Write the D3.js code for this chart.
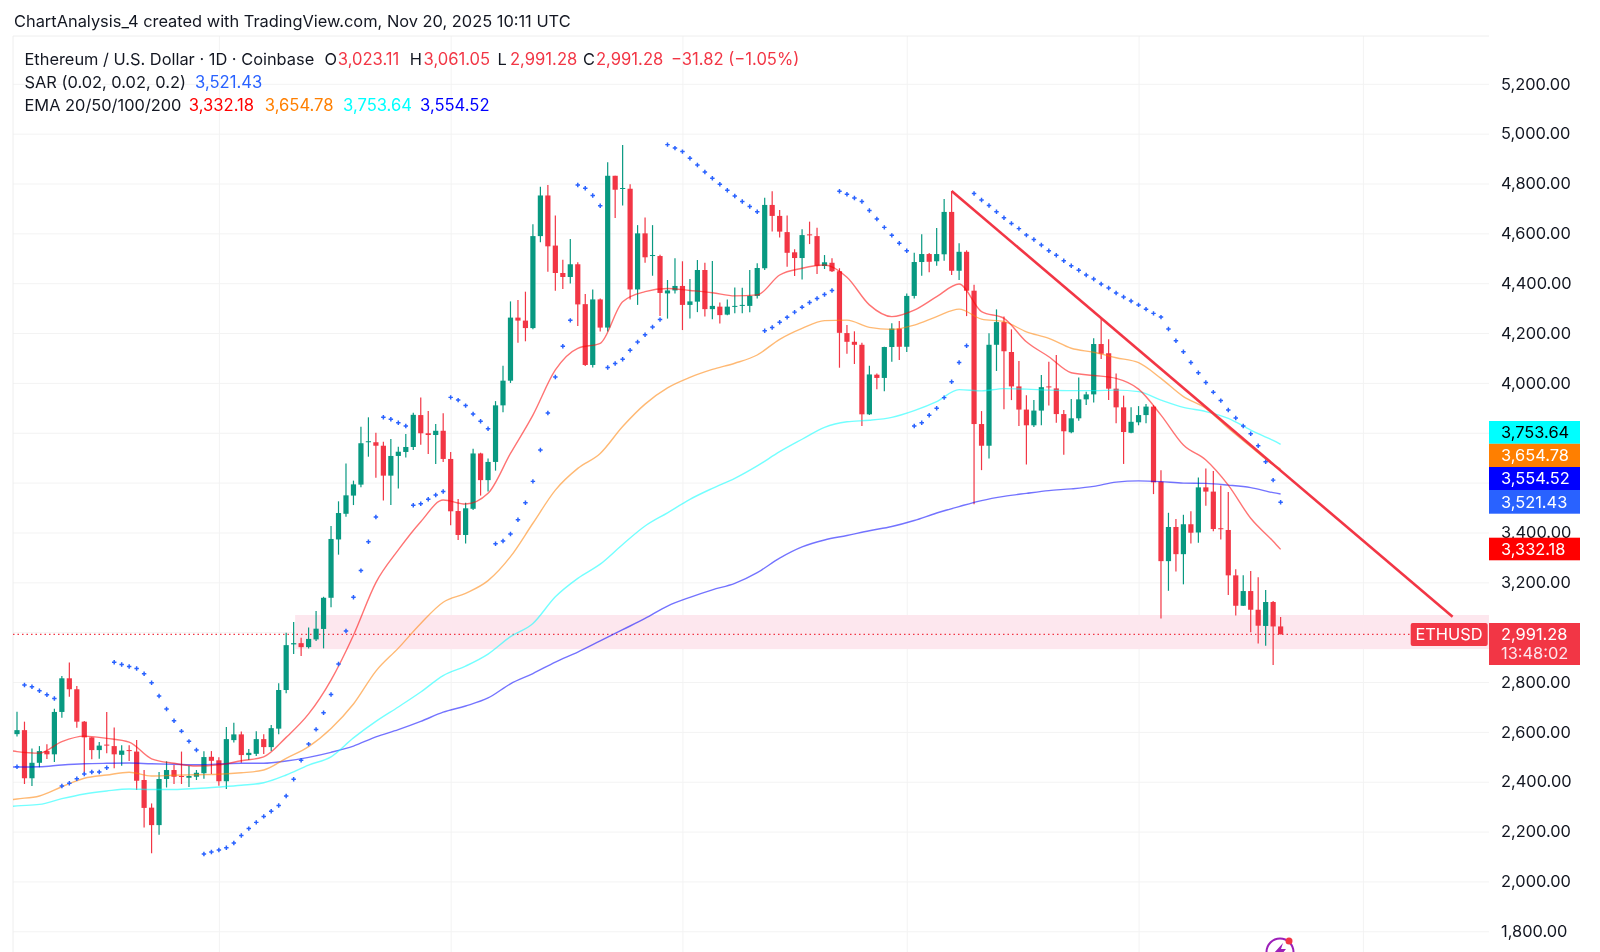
<!DOCTYPE html>
<html>
<head>
<meta charset="utf-8">
<title>ETHUSD</title>
<script src="https://cdn.jsdelivr.net/npm/d3@7"></script>
<style>
  html, body { margin: 0; padding: 0; background: #fff; overflow: hidden; }
  svg { display: block; filter: blur(0.35px); }
  text { font-family: Inter, "Noto Sans", sans-serif; }
</style>
</head>
<body>
<div id="chart"></div>
<script>
// candles, one per day from the first date
const firstDay = "2025-06-04";
const opens = [2591,2607,2414,2476,2523,2510,2680,2815,2771,2641,2578,2527,2549,2543,2508,2527,2521,2407,2296,2226,2411,2447,2423,2416,2420,2434,2500,2486,2402,2567,2590,2507,2512,2571,2539,2613,2768,2951,2956,2940,2971,3013,3138,3372,3475,3548,3592,3762,3762,3748,3628,3707,3723,3743,3871,3798,3791,3808,3695,3486,3390,3495,3717,3610,3683,3910,4009,4262,4250,4220,4589,4752,4551,4441,4425,4476,4316,4072,4335,4222,4831,4778,4779,4375,4600,4510,4509,4359,4371,4389,4313,4326,4453,4296,4306,4274,4305,4310,4309,4349,4460,4714,4670,4605,4524,4501,4596,4589,4469,4482,4448,4200,4165,4153,3874,4033,4020,4144,4218,4145,4349,4485,4517,4488,4516,4686,4450,4526,4370,3835,3748,4153,4244,4124,3986,3893,3830,3889,3986,3978,3875,3802,3858,3934,3954,4156,4119,3977,3902,3800,3842,3871,3905,3604,3285,3422,3313,3433,3400,3581,3564,3417,3410,3228,3106,3165,3090,3025,3121,3023.11];
const highs = [2681,2641,2533,2543,2550,2693,2824,2878,2784,2644,2578,2559,2680,2618,2546,2546,2567,2447,2313,2439,2482,2467,2521,2464,2447,2522,2523,2498,2620,2637,2602,2531,2603,2591,2628,2795,2998,3041,2978,3019,3085,3142,3426,3525,3677,3608,3824,3862,3800,3764,3775,3744,3795,3880,3941,3887,3835,3878,3723,3534,3519,3736,3720,3697,3927,4069,4327,4333,4366,4637,4787,4794,4672,4494,4577,4484,4357,4375,4339,4885,4831,4954,4797,4633,4664,4633,4514,4413,4500,4488,4417,4493,4482,4489,4323,4335,4383,4382,4453,4480,4743,4769,4694,4672,4536,4616,4647,4623,4513,4500,4460,4232,4207,4161,4069,4038,4145,4239,4248,4359,4522,4596,4521,4621,4738,4770,4560,4532,4394,3887,4199,4295,4266,4215,4088,3951,3931,4032,4085,4112,3891,3935,4022,3965,4179,4259,4175,4038,3949,3902,3907,3915,3911,3650,3479,3454,3471,3485,3621,3657,3647,3588,3562,3252,3228,3245,3220,3169,3125,3061.05];
const lows = [2581,2391,2383,2458,2491,2479,2657,2741,2617,2434,2490,2492,2514,2454,2464,2483,2367,2216,2113,2187,2377,2391,2391,2379,2407,2412,2431,2384,2371,2557,2476,2487,2503,2511,2523,2591,2755,2912,2904,2935,2965,2935,3100,3311,3463,3510,3581,3704,3620,3528,3510,3576,3701,3731,3752,3715,3675,3683,3429,3370,3356,3490,3548,3564,3648,3882,4000,4161,4167,4215,4564,4446,4370,4377,4399,4228,4068,4062,4206,4206,4662,4712,4335,4313,4482,4430,4268,4258,4359,4212,4258,4284,4266,4255,4238,4271,4279,4279,4284,4339,4453,4607,4583,4466,4429,4415,4557,4437,4457,4445,4061,4117,4076,3827,3871,3975,3967,4085,4092,4124,4339,4430,4444,4470,4490,4433,4413,4268,3513,3650,3697,4048,3894,3931,3827,3673,3823,3830,3909,3840,3712,3798,3848,3911,3921,4096,3931,3838,3675,3798,3830,3838,3554,3055,3166,3243,3192,3356,3359,3507,3405,3372,3149,3067,3105,3000,2955,2946,2868,2991.28];
const closes = [2607,2414,2476,2523,2510,2680,2815,2771,2641,2578,2527,2545,2545,2510,2525,2523,2404,2295,2226,2411,2447,2420,2419,2423,2436,2499,2484,2402,2571,2590,2507,2516,2571,2539,2615,2768,2948,2956,2940,2973,3014,3138,3374,3478,3549,3593,3758,3766,3748,3628,3707,3724,3743,3872,3798,3791,3808,3695,3485,3390,3497,3717,3610,3683,3910,4009,4262,4250,4220,4589,4752,4548,4441,4425,4476,4315,4072,4335,4222,4831,4775,4782,4375,4600,4504,4513,4361,4371,4389,4313,4327,4453,4296,4309,4272,4306,4309,4313,4349,4461,4714,4670,4607,4522,4501,4593,4593,4470,4484,4448,4201,4165,4153,3874,4034,4020,4144,4218,4145,4349,4485,4517,4486,4517,4686,4450,4526,4370,3835,3748,4153,4244,4127,3986,3893,3830,3889,3983,3983,3875,3806,3858,3934,3954,4156,4117,3977,3902,3803,3844,3871,3905,3601,3285,3422,3313,3433,3399,3581,3564,3414,3414,3228,3106,3165,3090,3026,3121,3023,2991.28];

// parabolic SAR, one dot per candle
const sar = [2460,2788,2781,2765,2749,2734,2383,2394,2412,2431,2439,2439,2456,2879,2870,2862,2854,2833,2797,2744,2692,2645,2603,2562,2527,2110,2118,2126,2135,2154,2184,2212,2237,2261,2282,2305,2343,2410,2486,2551,2610,2677,2750,2872,3005,3140,3247,3363,3462,3862,3854,3840,3827,3509,3515,3533,3550,3564,3942,3931,3909,3875,3846,3816,3355,3366,3394,3451,3519,3605,3731,3879,4024,4147,4251,4794,4781,4752,4711,4062,4078,4095,4131,4164,4193,4224,4254,4956,4942,4928,4901,4874,4846,4821,4797,4773,4750,4728,4708,4687,4209,4222,4243,4263,4284,4304,4323,4339,4355,4371,4769,4757,4742,4728,4692,4658,4624,4592,4560,4530,3827,3840,3870,3898,3941,4005,4082,4149,4760,4734,4712,4687,4663,4640,4619,4593,4575,4553,4530,4512,4490,4470,4452,4433,4417,4397,4381,4361,4345,4329,4313,4296,4279,4264,4216,4169,4125,4082,4041,4002,3963,3929,3891,3859,3827,3796,3748,3684,3610,3521.43];

// EMA lines read every third day
const emaDays = [-1,0,3,6,9,12,15,18,21,24,27,30,33,36,39,42,45,48,51,54,57,60,63,66,69,72,75,78,81,84,87,90,93,96,99,102,105,108,111,114,117,120,123,126,129,132,135,138,141,144,147,150,153,156,159,162,165,168,169];
const ema20 = [2525,2521,2515,2561,2583,2574,2559,2492,2474,2463,2468,2484,2500,2578,2672,2808,2988,3199,3330,3443,3530,3514,3557,3717,3871,4052,4139,4159,4326,4366,4379,4371,4362,4349,4353,4433,4460,4473,4424,4313,4266,4292,4346,4397,4286,4259,4165,4105,4041,4030,4018,3975,3871,3751,3691,3590,3457,3365,3332.18];
const ema50 = [2327,2331,2343,2380,2414,2427,2438,2423,2426,2428,2430,2436,2447,2494,2541,2614,2712,2844,2936,3035,3120,3156,3207,3303,3437,3570,3657,3717,3825,3915,3980,4022,4054,4079,4112,4175,4219,4250,4252,4223,4215,4232,4266,4296,4256,4246,4205,4179,4139,4123,4101,4081,4018,3945,3898,3818,3744,3672,3654.78];
const ema100 = [2300,2303,2309,2332,2351,2363,2371,2369,2369,2373,2379,2386,2396,2427,2467,2500,2576,2642,2700,2760,2826,2864,2912,2982,3035,3142,3216,3273,3352,3426,3479,3533,3577,3617,3667,3724,3774,3822,3844,3850,3862,3889,3925,3973,3968,3977,3975,3971,3969,3969,3971,3965,3931,3902,3885,3858,3811,3769,3753.64];
const ema200 = [2459,2459,2460,2467,2472,2474,2475,2472,2470,2468,2471,2474,2474,2483,2498,2518,2543,2580,2609,2642,2679,2704,2736,2793,2834,2880,2920,2965,3010,3055,3105,3140,3170,3196,3239,3297,3342,3370,3388,3407,3424,3448,3478,3504,3528,3545,3557,3568,3575,3585,3602,3607,3604,3598,3597,3590,3580,3560,3554.52];

// drawings and axes
const trendDays = [125, 192];
const trendPrices = [4770, 3062];
const zoneDays = [37.2, 200];
const zonePrices = [3069, 2932];
const lastPrice = 2991.28;
const gridPrices = [5200,5000,4800,4600,4400,4200,4000,3800,3600,3400,3200,3000,2800,2600,2400,2200,2000,1800];
const labelPrices = [5200,5000,4800,4600,4400,4200,4000,3400,3200,2800,2600,2400,2200,2000,1800];
const monthTicks = ["2025-07-01","2025-08-01","2025-09-01","2025-10-01","2025-11-01","2025-12-01"];

const titleText = "ChartAnalysis_4 created with TradingView.com, Nov 20, 2025 10:11 UTC";

const green = "#089981";
const red = "#f23645";
const width = 1600;
const height = 952;
const left = 13;
const right = 1489;
const top_ = 36;

const fmt = d3.format(",.2f");
const start = new Date(firstDay + "T00:00:00Z");
const dayOf = i => start.getTime() + i * 86400000;

const x = d3.scaleUtc()
    .domain([start, d3.utcDay.offset(start, 169)])
    .range([17, 17 + 169 * 7.477]);
const y = d3.scaleLinear()
    .domain([1800, 5200])
    .range([931.3, 83.8]);

const svg = d3.select("#chart").append("svg")
    .attr("width", width)
    .attr("height", height);

svg.append("clipPath").attr("id", "plot")
    .append("rect")
    .attr("x", left).attr("y", top_)
    .attr("width", right - left).attr("height", height - top_);

// grid
const gridY = svg.append("g")
    .attr("transform", `translate(${left},0)`)
    .call(d3.axisRight(y).tickValues(gridPrices).tickSize(right - left).tickFormat(""));
const gridX = svg.append("g")
    .attr("transform", `translate(0,${height})`)
    .call(d3.axisTop(x).tickValues(monthTicks.map(d => new Date(d + "T00:00:00Z"))).tickSize(height - top_).tickFormat(""));
[gridY, gridX].forEach(g => {
    g.select(".domain").remove();
    g.selectAll("line").attr("stroke", "#f3f3f3").attr("stroke-width", 1);
});

// frame, top and left only
svg.append("path")
    .attr("d", `M${left},${height}V${top_}H${right}`)
    .attr("fill", "none")
    .attr("stroke", "#eeeeee");

const plot = svg.append("g").attr("clip-path", "url(#plot)");

// pink zone
plot.append("rect")
    .attr("x", x(dayOf(zoneDays[0])))
    .attr("y", y(zonePrices[0]))
    .attr("width", x(dayOf(zoneDays[1])) - x(dayOf(zoneDays[0])))
    .attr("height", y(zonePrices[1]) - y(zonePrices[0]))
    .attr("fill", "#fde7ee");

// last price line
plot.append("line")
    .attr("x1", left).attr("x2", right)
    .attr("y1", y(lastPrice)).attr("y2", y(lastPrice))
    .attr("stroke", red)
    .attr("stroke-width", 1.2)
    .attr("stroke-dasharray", "1.5 3");

// candles
const candle = plot.selectAll(".candle")
    .data(opens.map((o, i) => i))
    .enter().append("g")
    .attr("class", "candle")
    .attr("fill", i => closes[i] < opens[i] ? red : green)
    .attr("stroke", i => closes[i] < opens[i] ? red : green);

candle.append("line")
    .attr("x1", i => x(dayOf(i))).attr("x2", i => x(dayOf(i)))
    .attr("y1", i => y(highs[i])).attr("y2", i => y(lows[i]))
    .attr("stroke-width", 1.2);

candle.append("rect")
    .attr("x", i => x(dayOf(i)) - 2.6)
    .attr("width", 5.2)
    .attr("y", i => y(Math.max(opens[i], closes[i])))
    .attr("height", i => Math.max(1, Math.abs(y(opens[i]) - y(closes[i]))))
    .attr("stroke", "none");

// EMA lines
const emaLine = values => d3.line()
    .x((d, k) => x(dayOf(emaDays[k])))
    .y(d => y(d))
    .curve(d3.curveMonotoneX)(values);

const emas = [
    { values: ema200, color: "#0000ff" },
    { values: ema100, color: "#00ffff" },
    { values: ema50, color: "#ff7f00" },
    { values: ema20, color: "#ff0000" }
];
plot.selectAll(".ema")
    .data(emas)
    .enter().append("path")
    .attr("class", "ema")
    .attr("d", d => emaLine(d.values))
    .attr("fill", "none")
    .attr("stroke", d => d.color)
    .attr("stroke-opacity", 0.55)
    .attr("stroke-width", 1.4);

// SAR dots
const cross = d3.symbol().type(d3.symbolCross).size(11);
plot.selectAll(".sar")
    .data(sar)
    .enter().append("path")
    .attr("class", "sar")
    .attr("d", cross)
    .attr("transform", (d, i) => `translate(${x(dayOf(i))},${y(d)})`)
    .attr("fill", "#2962ff");

// trend line
plot.append("line")
    .attr("x1", x(dayOf(trendDays[0]))).attr("y1", y(trendPrices[0]))
    .attr("x2", x(dayOf(trendDays[1]))).attr("y2", y(trendPrices[1]))
    .attr("stroke", red)
    .attr("stroke-width", 2.6);

// price axis
const axis = svg.append("g")
    .attr("transform", `translate(${right},0)`)
    .call(d3.axisRight(y).tickValues(labelPrices).tickSize(0).tickPadding(12).tickFormat(fmt));
axis.select(".domain").remove();
axis.selectAll("text")
    .attr("font-size", 16.4)
    .attr("fill", "#131722");

// coloured value boxes on the axis
const boxes = [
    { label: fmt(ema100[ema100.length - 1]), top: 421, bottom: 443.8, fill: "#00ffff", text: "#000000" },
    { label: fmt(ema50[ema50.length - 1]), top: 443.8, bottom: 467, fill: "#ff7f00", text: "#ffffff" },
    { label: fmt(ema200[ema200.length - 1]), top: 467, bottom: 490, fill: "#0000ff", text: "#ffffff" },
    { label: fmt(sar[sar.length - 1]), top: 490, bottom: 513.7, fill: "#2962ff", text: "#ffffff" },
    { label: fmt(ema20[ema20.length - 1]), top: 537.7, bottom: 560.3, fill: "#ff0000", text: "#ffffff" }
];
const box = svg.selectAll(".box")
    .data(boxes)
    .enter().append("g")
    .attr("class", "box");
box.append("rect")
    .attr("x", right).attr("width", 91)
    .attr("y", d => d.top)
    .attr("height", d => d.bottom - d.top)
    .attr("fill", d => d.fill);
box.append("text")
    .attr("x", right + 12)
    .attr("y", d => (d.top + d.bottom) / 2)
    .attr("dy", "0.35em")
    .attr("font-size", 16.4)
    .attr("fill", d => d.text)
    .text(d => d.label);

// last price box and symbol tag
svg.append("rect")
    .attr("x", right).attr("y", 623)
    .attr("width", 91).attr("height", 42)
    .attr("fill", red);
svg.append("text")
    .attr("x", right + 12).attr("y", 634).attr("dy", "0.35em")
    .attr("font-size", 16.4).attr("fill", "#fff")
    .text(fmt(lastPrice));
svg.append("text")
    .attr("x", right + 12).attr("y", 653).attr("dy", "0.35em")
    .attr("font-size", 16.4).attr("fill", "#fde5ec")
    .text("13:48:02");
svg.append("rect")
    .attr("x", 1410.7).attr("y", 623)
    .attr("width", 77).attr("height", 23).attr("rx", 2)
    .attr("fill", red);
svg.append("text")
    .attr("x", 1449).attr("y", 634.5).attr("dy", "0.35em")
    .attr("text-anchor", "middle")
    .attr("font-size", 16.4).attr("fill", "#fff")
    .text("ETHUSD");

// title and legend
svg.append("text")
    .attr("x", 14).attr("y", 21.6).attr("dy", "0.35em")
    .attr("font-size", 16.4).attr("fill", "#131722")
    .text(titleText);

const dark = "#131722";
const legend = [
    ["Ethereum / U.S. Dollar · 1D · Coinbase", 24.5, 59, dark],
    ["O", 324.5, 59, dark], ["3,023.11", 337.8, 59, red],
    ["H", 409.7, 59, dark], ["3,061.05", 423.5, 59, red],
    ["L", 497.4, 59, dark], ["2,991.28", 510, 59, red],
    ["C", 583, 59, dark], ["2,991.28", 596, 59, red],
    ["−31.82 (−1.05%)", 671, 59, red],
    ["SAR (0.02, 0.02, 0.2)", 24.5, 82, dark], ["3,521.43", 195, 82, "#2962ff"],
    ["EMA 20/50/100/200", 24.5, 105.3, dark],
    ["3,332.18", 188.8, 105.3, "#ff0000"], ["3,654.78", 264.8, 105.3, "#ff7f00"],
    ["3,753.64", 343, 105.3, "#00ffff"], ["3,554.52", 420, 105.3, "#0000ff"]
];
svg.selectAll(".legend")
    .data(legend)
    .enter().append("text")
    .attr("class", "legend")
    .attr("x", d => d[1])
    .attr("y", d => d[2])
    .attr("dy", "0.35em")
    .attr("font-size", d => d[3] === dark ? 16.4 : 16.6)
    .attr("fill", d => d[3])
    .text(d => d[0]);

// flash icon cut off by the bottom edge
const icon = svg.append("g").attr("transform", "translate(1280,952)");
icon.append("circle")
    .attr("r", 13.5)
    .attr("fill", "#fff")
    .attr("stroke", "#9c1fb8")
    .attr("stroke-width", 2);
icon.append("path")
    .attr("d", "M3,-9L-6,1H-1L-3,8L6,-3H1Z")
    .attr("fill", "#9c1fb8");
icon.append("circle")
    .attr("cx", 9).attr("cy", -11).attr("r", 3.5)
    .attr("fill", red);
</script>
</body>
</html>
